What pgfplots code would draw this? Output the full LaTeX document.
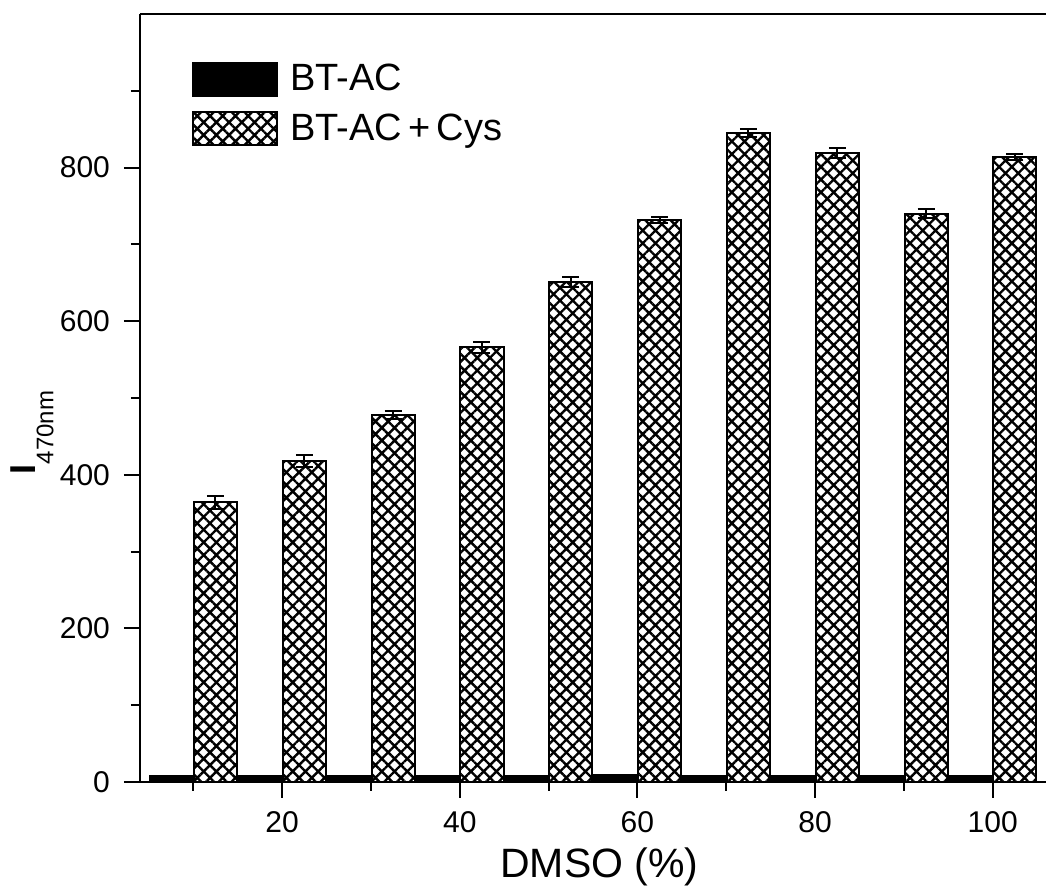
\documentclass[border=0pt]{standalone}
\usepackage{pgfplots}
\pgfplotsset{compat=1.18}
\usepackage{fontspec}
\setmainfont{Liberation Sans}
\usetikzlibrary{patterns.meta,calc}

\begin{document}
\begin{tikzpicture}
\begin{axis}[
    scale only axis,
    width=453pt, height=384pt,
    xmin=4, xmax=106,
    ymin=0, ymax=1000,
    clip=false,
    axis x line*=bottom,
    axis y line*=left,
    axis line style={line width=1pt, -},
    tick align=outside,
    xtick={20,40,...,100},
    minor xtick={10,30,...,90},
    ytick={0,200,...,800},
    minor ytick={100,300,...,900},
    major tick length=8pt,
    minor tick length=4.5pt,
    every tick/.style={black, line width=1pt},
    ticklabel style={font=\fontsize{15}{15}\selectfont},
    xticklabel style={yshift=-3.5pt},
    yticklabel style={xshift=-3.5pt},
    /pgf/number format/assume math mode=true,
    xlabel={DMSO (\%)},
    xlabel style={font=\fontsize{20.5}{20.5}\selectfont, at={(axis description cs:0.507,-0.125)}, anchor=base},
    ylabel={\fontsize{18}{18}\selectfont\textbf{I}\raisebox{-9pt}{\fontsize{12}{12}\selectfont 470nm}},
    ylabel style={at={(axis description cs:-0.119,0.455)}, anchor=center},
    legend style={at={(0.057,0.94)}, anchor=north west, draw=none, fill=none,
        font=\fontsize{19}{19}\selectfont, inner sep=0pt, row sep=6pt,
        /tikz/every odd column/.append style={column sep=4pt},
        cells={anchor=west}},
    legend image code/.code={\draw[#1] (0pt,-8.25pt) rectangle (42pt,8.25pt);},
]
% BT-AC
\addplot[ybar, bar width=4.85, bar shift=0, fill=black, draw=black, line width=0.8pt]
    coordinates {(7.5,8) (17.5,8) (27.5,8) (37.5,8) (47.5,8) (57.5,10) (67.5,8) (77.5,8) (87.5,8) (97.5,8)};
% BT-AC + Cys
\addplot[ybar, bar width=4.85, bar shift=0, draw=black, line width=1pt,
    pattern={Hatch[angle=45, distance=4.5pt, line width=1.2pt]},
    error bars/.cd, y dir=both, y explicit,
    error bar style={line width=1pt, black},
    error mark options={rotate=90, mark size=4.25pt, line width=1pt, black}]
    coordinates {
    (12.5,364) +- (0,9)
    (22.5,418) +- (0,8)
    (32.5,478) +- (0,5)
    (42.5,566) +- (0,7)
    (52.5,651) +- (0,6)
    (62.5,732) +- (0,4)
    (72.5,845) +- (0,5)
    (82.5,819) +- (0,7)
    (92.5,740) +- (0,6)
    (102.5,814) +- (0,4)
    };
\legend{BT-AC, BT-AC\,+\,Cys}
\draw[line width=1pt] (rel axis cs:0,1) -- (rel axis cs:1,1);
\coordinate (sw) at (rel axis cs:0,0);
\coordinate (ne) at (rel axis cs:1,1);
\end{axis}
\pgfresetboundingbox
\path ($(sw)+(-70pt,-52pt)$) rectangle ($(ne)+(0pt,7pt)$);
\end{tikzpicture}
\end{document}
